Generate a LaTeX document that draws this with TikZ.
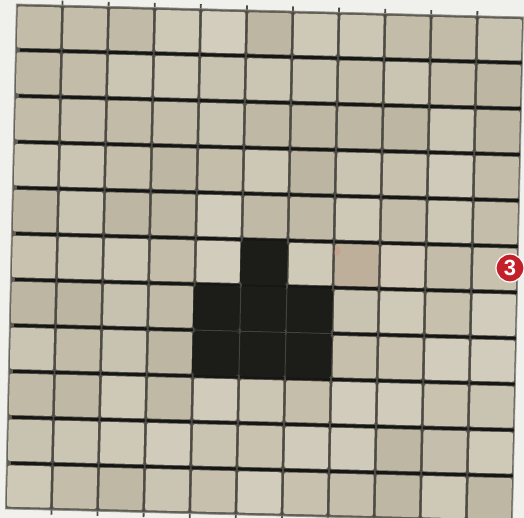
\documentclass[tikz,border=0pt]{standalone}
\usepackage{fontspec}
\setmainfont{Liberation Sans}
\definecolor{paper}{RGB}{240,240,236}
\definecolor{tilelight}{RGB}{210,205,188}
\definecolor{tiledark}{RGB}{188,181,161}
\definecolor{grout}{RGB}{95,92,84}
\definecolor{groutdark}{RGB}{22,22,20}
\definecolor{ink}{RGB}{28,28,25}
\definecolor{stain}{RGB}{205,140,120}
\definecolor{badgered}{RGB}{196,32,42}
\tikzset{
  tilecell/.style={rounded corners=1pt},
  hline/.style={draw=groutdark, line width=1.5pt},
  vline/.style={draw=grout!80!black, line width=0.9pt},
  inkcell/.style={fill=ink, rounded corners=2pt},
  inkgap/.style={draw=grout!60!ink, line width=0.5pt},
  badge/.style={circle, fill=badgered, draw=white, line width=0.6pt,
    minimum size=14pt, inner sep=0pt, text=white,
    font=\bfseries\fontsize{11}{11}\selectfont}
}
\begin{document}
\begin{tikzpicture}[x=0.5pt,y=-0.5pt]
\useasboundingbox (0,0) rectangle (524,518);
\fill[paper] (0,0) rectangle (524,518);
\begin{scope}
\clip (0,0) rectangle (524,518);
\begin{scope}[x=1pt,y=1pt,cm={23.045,-0.59,-0.5,-22.95,(8.2pt,-2pt)}]
  \fill[grout] (0,0) rectangle (11,11);
  \pgfmathsetseed{42}
  \foreach \i in {0,...,10}{
    \foreach \j in {0,...,10}{
      \pgfmathrandominteger{\r}{0}{100}
      \fill[tilecell, tilelight!\r!tiledark] (\i+0.03,\j+0.05) rectangle (\i+0.97,\j+0.95);
    }
  }
  \fill[tilecell, stain!14!tiledark] (7.03,5.05) rectangle (7.97,5.95);
  \fill[stain!45!tiledark] (7.05,5.2) circle[radius=0.1pt];
  \fill[tilecell, stain!8!tilelight] (8.03,5.05) rectangle (8.97,5.95);
  \foreach \j in {1,...,10} \draw[hline] (0.1,\j) -- (11,\j);
  \foreach \i in {1,...,10} \draw[vline] (\i,-0.1) -- (\i,11.1);
  \draw[grout!70, line width=0.4pt] (0,0) rectangle (11,11);
  \foreach \i/\j in {5/5,4/6,5/6,6/6,4/7,5/7,6/7}
    \fill[inkcell] (\i-0.02,\j+0.02) rectangle (\i+1.0,\j+0.98);
  \draw[inkgap] (5,6) -- (5,8) (6,6) -- (6,8) (4,7) -- (7,7);
\end{scope}
\node[badge] (badge) at (510,268) {3};
\end{scope}
\end{tikzpicture}
\end{document}
